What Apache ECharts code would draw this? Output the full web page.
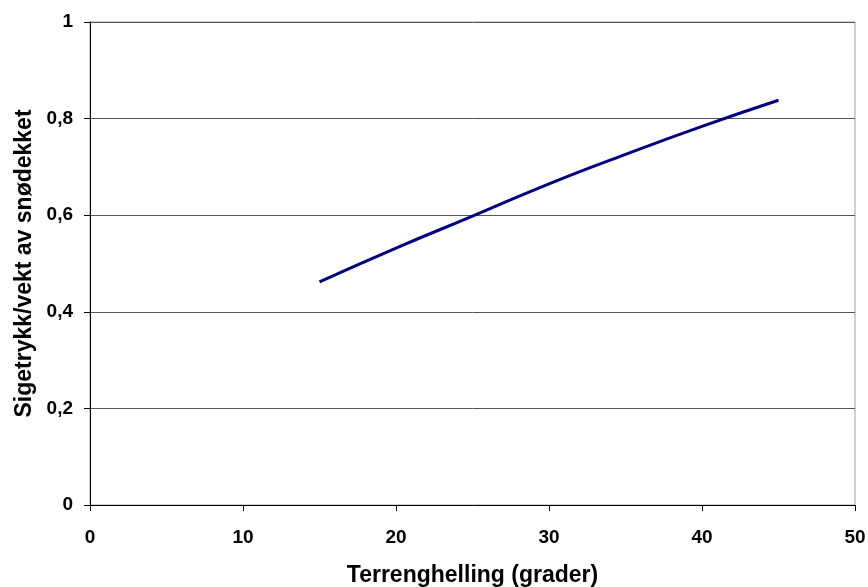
<!DOCTYPE html>
<html>
<head>
<meta charset="utf-8">
<script src="https://cdn.jsdelivr.net/npm/echarts@6/dist/echarts.min.js"></script>
<style>html,body{margin:0;padding:0;background:#fff;}#c{width:868px;height:587px;}</style>
</head>
<body>
<div id="c"></div>
<script>
const slopeDeg = [15, 20, 25, 30, 35, 40, 45];
const ratio = [0.462, 0.532, 0.598, 0.665, 0.726, 0.784, 0.838];
const xTitle = 'Terrenghelling (grader)';
const yTitle = 'Sigetrykk/vekt av snødekket';

const chart = echarts.init(document.getElementById('c'), null, {renderer: 'canvas'});
const font = 'Liberation Sans, Arial, sans-serif';
chart.setOption({
  animation: false,
  grid: {left: 90, right: 13, top: 22, bottom: 82, containLabel: false, outerBoundsMode: 'none',
         show: true, borderColor: '#a0a0a0', borderWidth: 1},
  xAxis: {
    type: 'value', min: 0, max: 50, interval: 10,
    name: xTitle, nameLocation: 'middle', nameGap: 59,
    nameTextStyle: {fontFamily: font, fontWeight: 'bold', fontSize: 23, color: '#000'},
    axisLine: {lineStyle: {color: '#000', width: 1}},
    axisTick: {show: true, length: 6, lineStyle: {color: '#000'}},
    axisLabel: {fontFamily: font, fontWeight: 'bold', fontSize: 19, color: '#000', margin: 23},
    splitLine: {show: false}
  },
  yAxis: {
    type: 'value', min: 0, max: 1, interval: 0.2,
    name: yTitle, nameLocation: 'middle', nameGap: 54,
    nameTextStyle: {fontFamily: font, fontWeight: 'bold', fontSize: 23, color: '#000'},
    axisLine: {show: true, lineStyle: {color: '#000', width: 1}},
    axisTick: {show: true, length: 6, lineStyle: {color: '#000'}},
    axisLabel: {fontFamily: font, fontWeight: 'bold', fontSize: 19, color: '#000', margin: 17,
      formatter: v => String(Math.round(v * 10) / 10).replace('.', ',')},
    splitLine: {show: true, lineStyle: {color: '#555', width: 1}}
  },
  series: [{
    type: 'line', smooth: true, showSymbol: false,
    data: slopeDeg.map((x, i) => [x, ratio[i]]),
    lineStyle: {color: '#000080', width: 3}
  }]
});
</script>
</body>
</html>
